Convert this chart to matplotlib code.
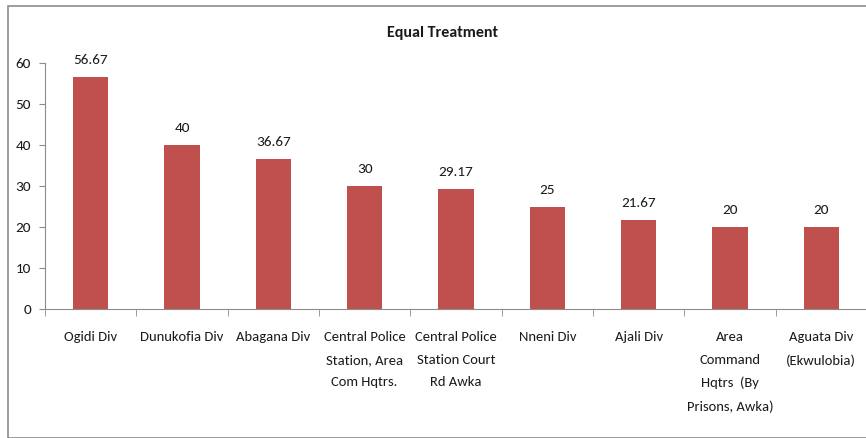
import matplotlib
matplotlib.use("Agg")
import matplotlib.pyplot as plt
from matplotlib import font_manager
from matplotlib.patches import Rectangle
from matplotlib.ticker import FixedLocator

names = {f.name for f in font_manager.fontManager.ttflist}
fam = 'Lato'
for cand in ['Carlito', 'Liberation Sans Narrow', 'PT Sans Narrow', 'Open Sans Condensed']:
    if cand in names:
        fam = cand
        break
plt.rcParams['font.family'] = [fam, 'DejaVu Sans']

categories = ["Ogidi Div", "Dunukofia Div", "Abagana Div",
              "Central Police\nStation, Area\nCom Hqtrs.",
              "Central Police\nStation Court\nRd Awka",
              "Nneni Div", "Ajali Div",
              "Area\nCommand\nHqtrs  (By\nPrisons, Awka)",
              "Aguata Div\n(Ekwulobia)"]
values = [56.67, 40, 36.67, 30, 29.17, 25, 21.67, 20, 20]
labels = ["56.67", "40", "36.67", "30", "29.17", "25", "21.67", "20", "20"]
title = "Equal Treatment"

W, H = 866, 438
fig = plt.figure(figsize=(W / 100, H / 100), dpi=100)
fig.patches.append(Rectangle((8 / W, 0), 2, 1 - 6 / H, transform=fig.transFigure,
                             fill=False, edgecolor='#8c8c8c', linewidth=1.2))

ax = fig.add_axes([45 / W, 129 / H, (867 - 45) / W, (375 - 129) / H])
x = list(range(len(values)))
ax.bar(x, values, width=0.39, color='#C0504D', zorder=2)
for xi, v, lab in zip(x, values, labels):
    ax.annotate(lab, (xi, v), xytext=(0, 11), textcoords='offset pixels',
                ha='center', va='bottom', fontsize=11, color='#1a1a1a')

ax.set_xlim(-0.5, len(values) - 0.5)
ax.set_ylim(0, 60)
ax.set_yticks(range(0, 61, 10))
ax.set_xticks(x)
ax.set_xticklabels(categories, fontsize=10.5, linespacing=2.05, va='top', color='#1a1a1a')
ax.xaxis.set_minor_locator(FixedLocator([i - 0.5 for i in range(len(values) + 1)]))
ax.tick_params(axis='x', which='major', length=0, pad=16)
ax.tick_params(axis='x', which='minor', length=5, color='#8c8c8c', direction='out')
ax.tick_params(axis='y', length=4, color='#8c8c8c', pad=6, labelsize=11, labelcolor='#1a1a1a')
for s in ['top', 'right']:
    ax.spines[s].set_visible(False)
for s in ['left', 'bottom']:
    ax.spines[s].set_color('#8c8c8c')
fig.text(443 / W, 1 - 33 / H, title, ha='center', va='center', fontsize=11.5,
         fontweight='bold', color='#1a1a1a')

fig.savefig("out.png", dpi=100)
